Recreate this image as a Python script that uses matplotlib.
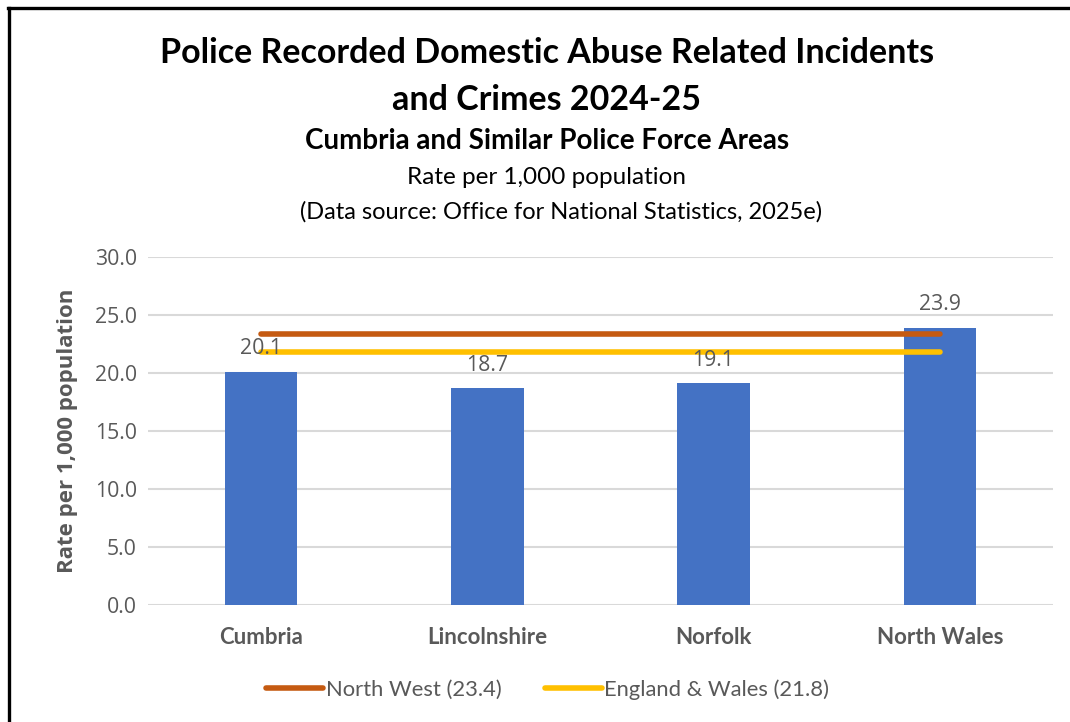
import matplotlib.pyplot as plt
from matplotlib.lines import Line2D

# -----------------------------
# Data
# -----------------------------
areas = ["Cumbria", "Lincolnshire", "Norfolk", "North Wales"]
rates = [20.1, 18.7, 19.1, 23.9]
north_west = 23.4
england_wales = 21.8
yticks = [0, 5, 10, 15, 20, 25, 30]

BAR_COLOR = "#4472C4"
NW_COLOR = "#C55A11"
EW_COLOR = "#FFC000"
TEXT_GREY = "#595959"
GRID_GREY = "#D9D9D9"
NUM_FONT = ["Open Sans", "DejaVu Sans"]

plt.rcParams["font.family"] = ["Lato", "DejaVu Sans"]

fig = plt.figure(figsize=(10.7, 7.22), dpi=100)
ax = fig.add_axes([0.1383, 0.162, 0.8457, 0.482])

x = list(range(len(areas)))
ax.bar(x, rates, width=0.32, color=BAR_COLOR, zorder=2)

for xi, v in zip(x, rates):
    ax.annotate(f"{v:.1f}", (xi, v), xytext=(0, 9), textcoords="offset points",
                ha="center", va="bottom", fontsize=15.3, color=TEXT_GREY,
                family=NUM_FONT, zorder=4)

ax.plot([x[0], x[-1]], [north_west] * 2, color=NW_COLOR, lw=4,
        solid_capstyle="round", zorder=3, label=f"North West ({north_west})")
ax.plot([x[0], x[-1]], [england_wales] * 2, color=EW_COLOR, lw=4,
        solid_capstyle="round", zorder=3, label=f"England & Wales ({england_wales})")

ax.set_xlim(-0.5, len(areas) - 0.5)
ax.set_ylim(0, 30)
ax.set_yticks(yticks)
ax.set_yticklabels([f"{t:.1f}" for t in yticks], fontsize=15.3, color=TEXT_GREY,
                   family=NUM_FONT)
ax.set_xticks(x)
ax.set_xticklabels(areas, fontsize=16, fontweight="bold", color=TEXT_GREY)
ax.tick_params(length=0)
ax.tick_params(axis="x", pad=16)
ax.tick_params(axis="y", pad=8)
ax.grid(axis="y", color=GRID_GREY, lw=1.5, zorder=0)
for s in ax.spines.values():
    s.set_visible(False)
ax.set_ylabel("Rate per 1,000 population", fontsize=16, fontweight="bold",
              color=TEXT_GREY, labelpad=12, family=NUM_FONT)

leg = fig.legend(loc="center", bbox_to_anchor=(0.512, 0.045), ncol=2, frameon=False,
                 fontsize=15.8, handlelength=2.6, handletextpad=0.1, columnspacing=2.0)
for t in leg.get_texts():
    t.set_color(TEXT_GREY)

# titles
fig.text(0.511, 0.927, "Police Recorded Domestic Abuse Related Incidents", ha="center",
         va="center", fontsize=24.5, fontweight="bold")
fig.text(0.511, 0.862, "and Crimes 2024-25", ha="center", va="center",
         fontsize=24.5, fontweight="bold")
fig.text(0.511, 0.805, "Cumbria and Similar Police Force Areas", ha="center",
         va="center", fontsize=20, fontweight="bold")
fig.text(0.511, 0.754, "Rate per 1,000 population", ha="center", va="center", fontsize=17.5)
fig.text(0.524, 0.706, "(Data source: Office for National Statistics, 2025e)",
         ha="center", va="center", fontsize=17)

# outer frame (top and left edges only visible)
fig.add_artist(Line2D([0.0075, 1.0], [0.989, 0.989], color="black", lw=2.4))
fig.add_artist(Line2D([0.0084, 0.0084], [0.0, 0.989], color="black", lw=2.4))

fig.savefig("out.png", dpi=100)
